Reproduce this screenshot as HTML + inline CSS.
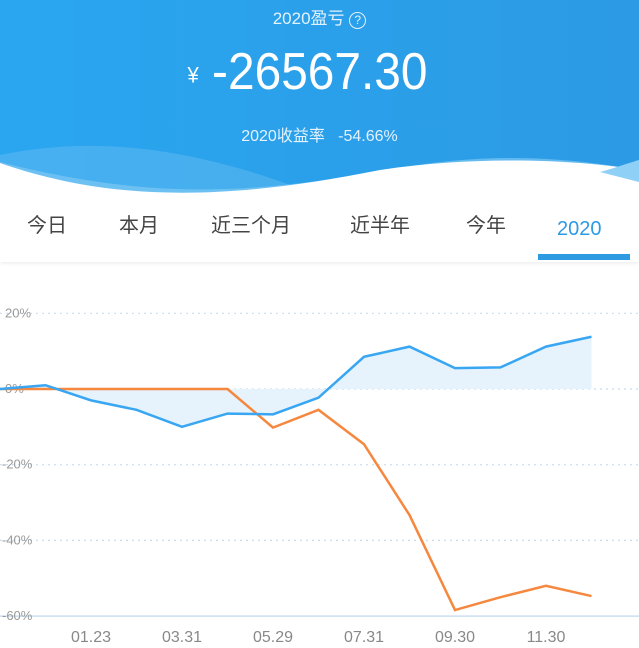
<!DOCTYPE html>
<html><head><meta charset="utf-8"><style>
body{margin:0;width:639px;height:648px;overflow:hidden;background:#fff;font-family:"Liberation Sans","Noto Sans CJK SC",sans-serif;position:relative}
.hdr{position:absolute;left:0;top:0;width:639px;height:240px;background:linear-gradient(90deg,#2aa6f0,#2c9ae4)}
.t{position:absolute;color:#fff;text-align:center;width:639px;left:0}
.tabs{position:absolute;top:200px;left:0;width:639px;height:62px;background:#fff;box-shadow:0 2px 3px rgba(0,0,0,.06)}
.tab{position:absolute;top:12px;font-size:20px;line-height:28px;height:28px;color:#444}
</style></head><body>
<div class="hdr"></div>
<svg style="position:absolute;left:0;top:130px" width="639" height="80">
<path d="M0,25 C120,0 230,30 330,70 L0,80Z" fill="#5ab8f0" opacity=".6"/>
<path d="M0,32 C150,70 250,65 400,38 C500,20 580,30 639,40 L639,80 L0,80Z" fill="#7cc7f4" opacity=".7"/>
<path d="M0,33 C120,75 240,68 380,40 C480,25 580,30 639,40 L639,80 L0,80Z" fill="#fff"/>
<path d="M600,42 C615,38 628,33 639,30 L639,52Z" fill="#8fd0f6"/>
</svg>
<div class="t" style="top:4px;font-size:17px;color:#e3f2fd">2020盈亏 <span style="display:inline-block;width:15px;height:15px;border:1px solid #e3f2fd;border-radius:50%;font-size:12px;line-height:15px">?</span></div>
<div class="t" style="top:42px;font-size:52px;line-height:60px;transform:scaleX(0.92);left:-12px"><span style="font-size:22px;vertical-align:middle">¥</span> -26567.30</div>
<div class="t" style="top:122px;font-size:16px;color:#e3f2fd">2020收益率 &nbsp; -54.66%</div>
<div class="tabs">
<span class="tab" style="left:27px">今日</span>
<span class="tab" style="left:119px">本月</span>
<span class="tab" style="left:211px">近三个月</span>
<span class="tab" style="left:350px">近半年</span>
<span class="tab" style="left:466px">今年</span>
<span class="tab" style="left:557px;color:#2e9ae2;top:15px">2020</span>
<div style="position:absolute;left:538px;top:54px;width:92px;height:6px;background:#2e9ae2"></div>
</div>
<svg id="c" style="position:absolute;left:0;top:290px" width="639" height="358"></svg>
<script>
const categories=["i0","i1","i2","i3","i4","i5","i6","i7","i8","i9","i10","i11","i12","i13"];
const blueValues=[0,1,-3,-5.5,-10,-6.5,-6.7,-2.3,8.5,11.2,5.5,5.7,11.2,13.8];
const orangeValues=[0,0,0,0,0,0,-10.2,-5.5,-14.6,-33.3,-58.4,-55,-52,-54.7];
const yTicks=[20,0,-20,-40,-60];
const xLabels=["01.23","03.31","05.29","07.31","09.30","11.30"];
const xLabelIdx=[2,4,6,8,10,12];
const svg=document.getElementById('c');const NS='http://www.w3.org/2000/svg';
const X=i=>i*45.5, Y=v=>99-v*3.785;
function mk(t,a){const e=document.createElementNS(NS,t);for(const k in a)e.setAttribute(k,a[k]);svg.appendChild(e);return e;}
yTicks.forEach(v=>{
const l=mk('line',{x1:0,x2:639,y1:Y(v),y2:Y(v),stroke:v==-60?'#c9dff2':'#c7dcef','stroke-width':v==-60?1.5:1.2,'stroke-dasharray':v==-60?'':'2,4'});


const t=mk('text',{x:v<0?2:5,y:Y(v)+4,'font-size':13,fill:'#999'});t.textContent=v+'%';


});
xLabels.forEach((s,k)=>{const t=mk('text',{x:X(xLabelIdx[k]),y:352,'font-size':16,fill:'#888','text-anchor':'middle'});t.textContent=s;

});
const last=categories.length-1;
let area='M'+X(0)+','+Y(0)+blueValues.map((v,i)=>' L'+X(i)+','+Y(v)).join('')+' L'+X(last)+','+Y(0)+'Z';
const a=mk('path',{d:area,fill:'#e6f3fd'});


const o=mk('polyline',{points:orangeValues.map((v,i)=>X(i)+','+Y(v)).join(' '),fill:'none',stroke:'#f5883e','stroke-width':2.5});


const b=mk('polyline',{points:blueValues.map((v,i)=>X(i)+','+Y(v)).join(' '),fill:'none',stroke:'#38a6f2','stroke-width':2.5});


</script>
</body></html>
